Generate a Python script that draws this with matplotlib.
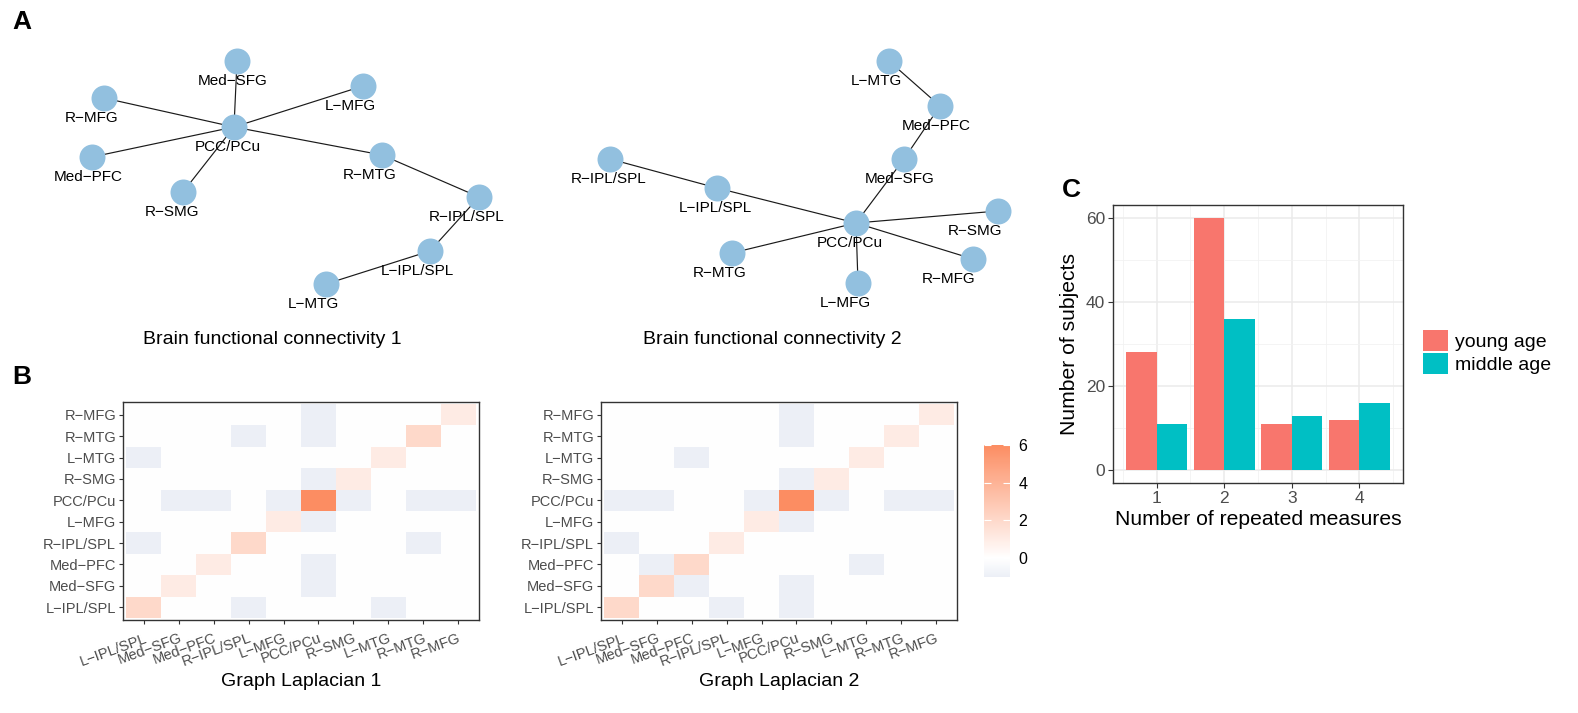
import numpy as np
import matplotlib.pyplot as plt
from matplotlib.colors import LinearSegmentedColormap, Normalize, to_rgb
from matplotlib.patches import Patch


plt.rcParams['font.family'] = ['Liberation Sans', 'DejaVu Sans']

# brain regions, in the order used on both heatmap axes (bottom -> top)
regions = ['L-IPL/SPL', 'Med-SFG', 'Med-PFC', 'R-IPL/SPL', 'L-MFG',
           'PCC/PCu', 'R-SMG', 'L-MTG', 'R-MTG', 'R-MFG']

# network 1: layout coordinates (same order as regions) and edges
net1_x = [4.30, 2.37, 0.92, 4.79, 3.63, 2.34, 1.83, 3.26, 3.82, 1.04]
net1_y = [0.69, 2.59, 1.63, 1.23, 2.34, 1.93, 1.28, 0.36, 1.65, 2.22]
net1_edges = [('PCC/PCu', 'Med-SFG'), ('PCC/PCu', 'R-MFG'), ('PCC/PCu', 'L-MFG'),
              ('PCC/PCu', 'Med-PFC'), ('PCC/PCu', 'R-SMG'), ('PCC/PCu', 'R-MTG'),
              ('R-MTG', 'R-IPL/SPL'), ('R-IPL/SPL', 'L-IPL/SPL'),
              ('L-IPL/SPL', 'L-MTG')]

# network 2
net2_x = [1.77, 3.64, 4.00, 0.70, 3.18, 3.16, 4.58, 3.49, 1.92, 4.33]
net2_y = [1.32, 1.61, 2.14, 1.61, 0.37, 0.97, 1.09, 2.59, 0.67, 0.61]
net2_edges = [('L-MTG', 'Med-PFC'), ('Med-PFC', 'Med-SFG'), ('Med-SFG', 'PCC/PCu'),
              ('R-IPL/SPL', 'L-IPL/SPL'), ('L-IPL/SPL', 'PCC/PCu'),
              ('PCC/PCu', 'R-SMG'), ('PCC/PCu', 'R-MFG'), ('PCC/PCu', 'L-MFG'),
              ('PCC/PCu', 'R-MTG')]

# horizontal nudge of each node label (pixels)
net1_label_dx = [-13, -4, -4, -12, -13, -6, -11, -13, -12, -12]
net2_label_dx = [-2, -4, -4, -1, -13, -6, -23, -13, -12, -24]

# panel C
repeats = [1, 2, 3, 4]
young_age = [28, 60, 11, 12]
middle_age = [11, 36, 13, 16]

fig_w, fig_h = 1578, 713
fig = plt.figure(figsize=(fig_w / 100, fig_h / 100), dpi=100)

node_color = '#92C0DF'
frame_color = '#333333'
tick_text = '#4D4D4D'


def px_axes(left, top, width, height):
    return fig.add_axes([left / fig_w, 1 - (top + height) / fig_h,
                         width / fig_w, height / fig_h])


def pretty(name):
    return name.replace('-', '\u2212')


def laplacian(edges):
    idx = {r: i for i, r in enumerate(regions)}
    adj = np.zeros((len(regions), len(regions)))
    for a, b in edges:
        adj[idx[a], idx[b]] = 1
        adj[idx[b], idx[a]] = 1
    return np.diag(adj.sum(axis=1)) - adj


def draw_network(ax, xs, ys, edges, label_dx):
    idx = {r: i for i, r in enumerate(regions)}
    for a, b in edges:
        ax.plot([xs[idx[a]], xs[idx[b]]], [ys[idx[a]], ys[idx[b]]],
                color='#1a1a1a', lw=0.85, zorder=1)
    ax.scatter(xs, ys, s=350, color=node_color, linewidths=0, zorder=2)
    for name, x, y, dx in zip(regions, xs, ys, label_dx):
        ax.annotate(pretty(name), (x, y), xytext=(dx * 0.72, -20 * 0.72),
                    textcoords='offset points', ha='center', va='center',
                    fontsize=11, zorder=3)
    ax.set_ylim(0, 3.2)
    ax.axis('off')


ax_n1 = px_axes(0, 0, 540, 320)
draw_network(ax_n1, net1_x, net1_y, net1_edges, net1_label_dx)
ax_n1.set_xlim(0, 5.4)
ax_n2 = px_axes(540, 0, 510, 320)
draw_network(ax_n2, net2_x, net2_y, net2_edges, net2_label_dx)
ax_n2.set_xlim(0, 5.1)

fig.text(272 / fig_w, 1 - 340 / fig_h, 'Brain functional connectivity 1',
         ha='center', va='center', fontsize=14)
fig.text(772 / fig_w, 1 - 340 / fig_h, 'Brain functional connectivity 2',
         ha='center', va='center', fontsize=14)

# heatmaps: white at 0, blue-ish below, orange above
low = np.array(to_rgb('#8DA0CB'))
minus_one = 1 - (1 - low) / 6
cmap = LinearSegmentedColormap.from_list(
    'lap', [(0, minus_one), (1 / 7, (1, 1, 1)), (1, to_rgb('#FC8D62'))])
norm = Normalize(vmin=-1, vmax=6)

labels = [pretty(r) for r in regions]
for left, edges, title, cx in [(123, net1_edges, 'Graph Laplacian 1', 301),
                               (601, net2_edges, 'Graph Laplacian 2', 779)]:
    ax = px_axes(left, 402, 356, 218)
    im = ax.imshow(laplacian(edges), cmap=cmap, norm=norm, origin='lower',
                   interpolation='nearest', aspect='auto',
                   extent=(-0.5, 9.5, -0.5, 9.5))
    ax.set_xlim(-0.6, 9.6)
    ax.set_ylim(-0.6, 9.6)
    ax.set_xticks(range(len(regions)))
    ax.set_yticks(range(len(regions)))
    ax.set_xticklabels(labels, rotation=20, ha='right', va='top',
                       rotation_mode='anchor')
    ax.set_yticklabels(labels)
    ax.tick_params(length=3, width=0.8, color=frame_color, labelcolor=tick_text,
                   labelsize=10.5, pad=2)
    ax.tick_params(axis='x', pad=5)
    for s in ax.spines.values():
        s.set_color(frame_color)
        s.set_linewidth(1.0)
    fig.text(cx / fig_w, 1 - 681 / fig_h, title, ha='center', va='center',
             fontsize=14)

cax = px_axes(984, 445, 26, 132)
cb = fig.colorbar(im, cax=cax, ticks=[0, 2, 4, 6])
cb.outline.set_visible(False)
cax.yaxis.set_ticks_position('both')
cax.tick_params(direction='in', length=5, width=0.8, color='white',
                labelsize=11.5, labelcolor='black', labelleft=False,
                labelright=True, pad=6)

# panel C: bar chart
ax_c = px_axes(1113, 205, 290, 278)
pos = np.array(repeats, dtype=float)
ax_c.bar(pos - 0.225, young_age, width=0.45, color='#F8766D', zorder=2)
ax_c.bar(pos + 0.225, middle_age, width=0.45, color='#00BFC4', zorder=2)
ax_c.set_xlim(0.355, 4.645)
ax_c.set_ylim(-3, 63)
ax_c.set_xticks(repeats)
ax_c.set_yticks([0, 20, 40, 60])
ax_c.set_xticks(np.arange(0.5, 5, 1), minor=True)
ax_c.set_yticks([10, 30, 50], minor=True)
ax_c.grid(which='major', color='#EBEBEB', lw=1.1, zorder=0)
ax_c.grid(which='minor', color='#F2F2F2', lw=0.6, zorder=0)
ax_c.set_axisbelow(True)
ax_c.tick_params(which='major', length=3.5, width=0.8, color=frame_color,
                 labelcolor=tick_text, labelsize=12.5, pad=2)
ax_c.tick_params(which='minor', length=0)
for s in ax_c.spines.values():
    s.set_color(frame_color)
    s.set_linewidth(1.0)
ax_c.set_xlabel('Number of repeated measures', fontsize=15.2, labelpad=3)
ax_c.set_ylabel('Number of subjects', fontsize=15.2, labelpad=5)

handles = [Patch(facecolor='#F8766D', label='young age'),
           Patch(facecolor='#00BFC4', label='middle age')]
ax_c.legend(handles=handles, loc='upper left',
            bbox_to_anchor=(1423 / fig_w, 1 - 330 / fig_h),
            bbox_transform=fig.transFigure, frameon=False, fontsize=14,
            handlelength=1.29, handleheight=1.29, labelspacing=0.08,
            handletextpad=0.35, borderpad=0, borderaxespad=0)

for letter, x, y in [('A', 12, 22), ('B', 12, 377), ('C', 1062, 190)]:
    fig.text(x / fig_w, 1 - y / fig_h, letter, fontsize=19, fontweight='bold',
             ha='left', va='center')

fig.savefig('out.png', dpi=100)
